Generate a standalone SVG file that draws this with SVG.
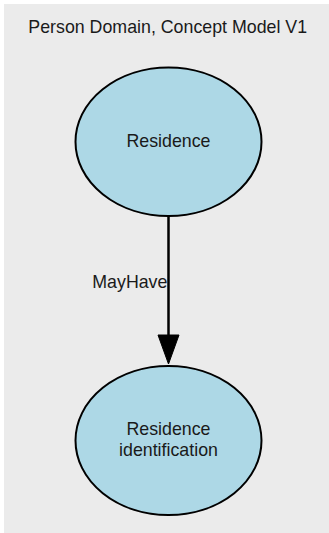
<svg xmlns="http://www.w3.org/2000/svg" width="329" height="533" viewBox="0 0 329 533">
<style>
text{font-family:"Liberation Sans",Arial,sans-serif;font-size:17.8px;fill:#1a1a1a}
.n ellipse{fill:#add8e6;stroke:#000;stroke-width:2}
.n text{text-anchor:middle}
</style>
<defs>
<marker id="ah" markerUnits="userSpaceOnUse" markerWidth="22" markerHeight="30" refX="11" refY="29" orient="auto-start-reverse" viewBox="0 0 22 30">
<polygon points="0.5,0 21.5,0 11,29" fill="#000" stroke="#000" stroke-width="1"/>
</marker>
</defs>
<rect x="4" y="4" width="325" height="529" fill="#ebebeb"/>
<text x="167.7" y="32.5" text-anchor="middle">Person Domain, Concept Model V1</text>
<g id="connectors">
<line x1="168.5" y1="216" x2="168.5" y2="335" stroke="#000" stroke-width="2.5"/>
<polygon points="158,335 179,335 168.5,364" fill="#000" stroke="#000" stroke-width="1"/>
<text x="92.3" y="287.5">MayHave</text>
</g>
<g id="residence" class="n">
<ellipse cx="168.5" cy="141.7" rx="93" ry="74.3"/>
<text x="168.5" y="147.4">Residence</text>
</g>
<g id="residence-identification" class="n">
<ellipse cx="168.5" cy="440.5" rx="93" ry="74.5"/>
<text x="168.5" y="435">Residence</text>
<text x="168.5" y="456">identification</text>
</g>
</svg>
